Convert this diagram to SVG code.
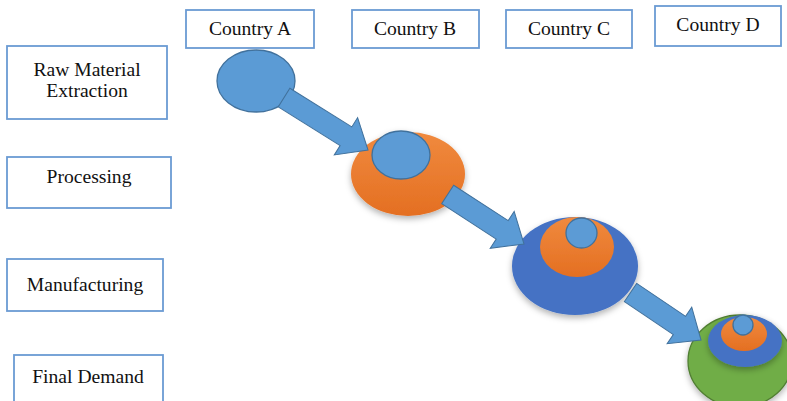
<svg xmlns="http://www.w3.org/2000/svg" width="787" height="401" viewBox="0 0 787 401">
<style>
.box{fill:#fff;stroke:#6B9BD3;stroke-width:1.8}
.lbl{font-family:"Liberation Serif","Times New Roman",serif;font-size:19.6px;fill:#111;text-anchor:middle}
.lb{fill:#5B9BD5;stroke:#41719C;stroke-width:1.3}
.db{fill:#4472C4}
.or{fill:url(#og)}
.gr{fill:#70AD47;stroke:#507E32;stroke-width:1.3}
.arr{fill:#5B9BD5;stroke:#41719C;stroke-width:1}
</style>
<defs>
<linearGradient id="og" x1="0" y1="0" x2="0" y2="1">
<stop offset="0" stop-color="#F08A3E"/>
<stop offset="1" stop-color="#E46F22"/>
</linearGradient>
<filter id="sh" x="-30%" y="-30%" width="160%" height="160%">
<feDropShadow dx="0" dy="3" stdDeviation="3" flood-color="#000" flood-opacity="0.3"/>
</filter>
</defs>
<g id="row-labels">
<g id="raw"><rect class="box" x="7" y="46" width="160" height="73"/><text class="lbl" x="87" y="76">Raw Material</text><text class="lbl" x="87" y="97">Extraction</text></g>
<g id="processing"><rect class="box" x="7" y="157" width="164" height="51"/><text class="lbl" x="89" y="183">Processing</text></g>
<g id="manufacturing"><rect class="box" x="7" y="259" width="156" height="52"/><text class="lbl" x="85" y="291">Manufacturing</text></g>
<g id="final"><rect class="box" x="14" y="355" width="149" height="50"/><text class="lbl" x="88" y="383">Final Demand</text></g>
</g>
<g id="countries">
<g id="countryA"><rect class="box" x="186" y="10" width="128" height="38"/><text class="lbl" x="250" y="35">Country A</text></g>
<g id="countryB"><rect class="box" x="352" y="10" width="127" height="38"/><text class="lbl" x="415" y="35">Country B</text></g>
<g id="countryC"><rect class="box" x="506" y="10" width="126" height="38"/><text class="lbl" x="569" y="35">Country C</text></g>
<g id="countryD"><rect class="box" x="655" y="6" width="126" height="40"/><text class="lbl" x="718" y="31">Country D</text></g>
</g>
<g id="nodeA"><ellipse class="lb" cx="256" cy="81" rx="39" ry="31"/></g>
<g id="nodeB" filter="url(#sh)"><ellipse class="or" cx="408" cy="174" rx="57" ry="42"/><ellipse class="lb" cx="401" cy="155" rx="29" ry="24"/></g>
<g id="nodeC" filter="url(#sh)"><ellipse class="db" cx="575" cy="266" rx="63" ry="49"/><ellipse class="or" cx="577" cy="247" rx="37" ry="30"/><ellipse class="lb" cx="581.5" cy="233" rx="15.5" ry="15"/></g>
<g id="nodeD"><ellipse class="gr" cx="740" cy="361" rx="52" ry="46" filter="url(#sh)"/><g filter="url(#sh)"><ellipse class="db" cx="745" cy="341" rx="37" ry="26"/><ellipse class="or" cx="744" cy="334" rx="23" ry="17"/><ellipse class="lb" cx="743" cy="325" rx="10" ry="10"/></g></g>
<g id="connectors">
<polygon class="arr" transform="translate(368,150) rotate(32)" points="0,0 -26,-22 -26,-11 -99,-11 -99,11 -26,11 -26,22"/>
<polygon class="arr" transform="translate(524,244) rotate(33)" points="0,0 -26,-22 -26,-11 -91,-11 -91,11 -26,11 -26,22"/>
<polygon class="arr" transform="translate(701,340) rotate(34)" points="0,0 -26,-22 -26,-11 -85,-11 -85,11 -26,11 -26,22"/>
</g>
</svg>
